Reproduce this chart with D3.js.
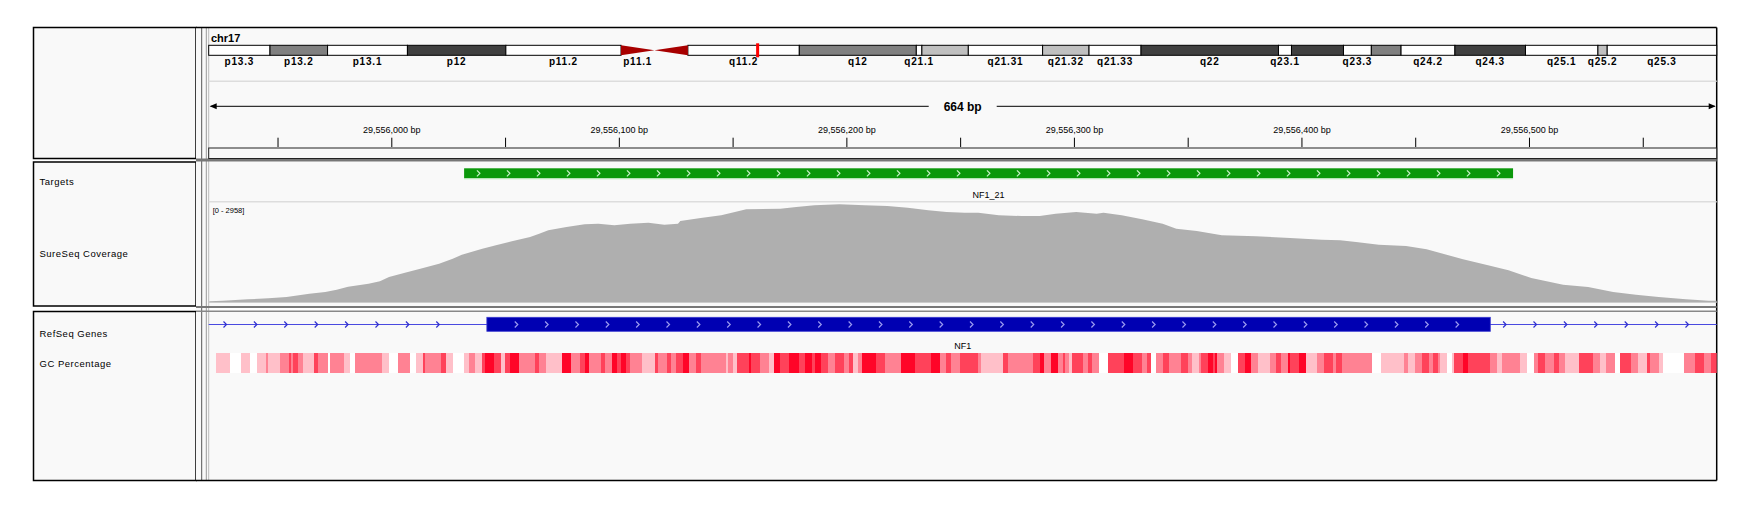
<!DOCTYPE html>
<html>
<head>
<meta charset="utf-8">
<script src="https://cdn.jsdelivr.net/npm/d3@7"></script>
<style>
  body { margin: 0; background: #fff; }
  text { font-family: "Liberation Sans", Arial, sans-serif; }
</style>
</head>
<body>
<div id="igv"></div>
<script>
// ---- data ----
var chrName = "chr17";
var chrLength = 81195210;
var viewStart = 29555919.75, viewEnd = 29556582.5;
var spanLabel = "664 bp";

// hg19 chr17 cytobands
var bandName  = ["p13.3","p13.2","p13.1","p12","p11.2","p11.1","q11.1","q11.2","q12","q21.1","q21.2","q21.31","q21.32","q21.33","q22","q23.1","q23.2","q23.3","q24.1","q24.2","q24.3","q25.1","q25.2","q25.3"];
var bandStart = [0,3300000,6400000,10700000,16000000,22200000,24000000,25800000,31800000,38100000,38400000,40900000,44900000,47400000,50200000,57600000,58300000,61100000,62600000,64200000,67100000,70900000,74800000,75300000];
var bandEnd   = [3300000,6400000,10700000,16000000,22200000,24000000,25800000,31800000,38100000,38400000,40900000,44900000,47400000,50200000,57600000,58300000,61100000,62600000,64200000,67100000,70900000,74800000,75300000,81195210];
var bandStain = ["gneg","gpos50","gneg","gpos75","gneg","acen","acen","gneg","gpos50","gneg","gpos25","gneg","gpos25","gneg","gpos75","gneg","gpos75","gneg","gpos50","gneg","gpos75","gneg","gpos25","gneg"];
var bandShown = ["p13.3","p13.2","p13.1","p12","p11.2","p11.1","q11.2","q12","q21.1","q21.31","q21.32","q21.33","q22","q23.1","q23.3","q24.2","q24.3","q25.1","q25.2","q25.3"];

// ruler ticks (bp)
var rulerTicks = [29555950,29556000,29556050,29556100,29556150,29556200,29556250,29556300,29556350,29556400,29556450,29556500,29556550];
var rulerLabels = [29556000,29556100,29556200,29556300,29556400,29556500];

// targets track
var targetName = "NF1_21", targetStart = 29556032, targetEnd = 29556493;

// coverage track
var covMax = 2958;
var covPos = [29555920,29555926,29555937,29555946,29555954,29555964,29555971,29555976,29555981,29555990,29555995,29555999,
  29556006,29556014,29556021,29556027,29556031,29556040,29556046,29556053,29556061,29556065,29556069,29556077,29556085,29556091,29556098,
  29556105,29556113,29556120,29556126,29556127,29556136,29556145,29556151,29556156,29556171,29556178,29556186,29556197,
  29556208,29556218,29556227,29556236,29556244,29556252,29556258,29556267,29556277,29556285,29556292,
  29556301,29556310,29556313,29556321,29556330,29556339,29556345,29556354,29556365,29556380,29556395,
  29556409,29556417,29556424,29556434,29556446,29556455,29556463,29556471,29556482,29556491,
  29556501,29556515,29556526,29556537,29556547,29556557,29556569,29556579,29556583];
var covDepth = [21,38,80,109,148,246,296,364,453,541,612,740,
  867,1006,1133,1281,1399,1577,1677,1796,1923,2020,2121,2219,2298,2316,2269,
  2316,2346,2287,2316,2396,2485,2565,2662,2742,2760,2810,2860,2890,
  2860,2840,2789,2712,2662,2641,2641,2565,2544,2544,2612,
  2662,2612,2641,2565,2446,2316,2168,2100,1973,1943,1893,
  1843,1825,1775,1695,1656,1559,1411,1263,1086,938,
  710,512,444,296,216,148,80,38,38];

// RefSeq gene
var geneName = "NF1", geneStart = 29421945, geneEnd = 29704695;
var exonStart = 29556042, exonEnd = 29556483;

// GC percentage: runs of [offset from gcOrigin, level 0-4]
var gcOrigin = 29555920, gcEndOffset = 663;
var gcRuns = [[3,1],[9,0],[14,1],[18,0],[21,1],[25,2],[26,1],[31,2],[35,3],[36,2],[37,3],[39,2],[41,1],[46,3],[48,2],[52,0],[53,2],[59,1],[62,0],[64,2],[76,1],[79,0],[83,2],[88,0],[91,1],[94,3],[95,2],[102,3],[104,1],[107,0],[112,1],[114,2],[117,1],[120,3],[121,4],[125,3],[128,1],[130,3],[132,4],[136,2],[143,3],[145,2],[148,1],[155,4],[159,2],[163,3],[165,4],
  [167,2],[172,3],[174,2],[177,4],[179,3],[181,4],[183,3],[185,2],[190,1],[196,3],[197,2],[201,3],[203,2],[205,3],[208,4],[211,2],[214,3],[216,2],[227,1],[228,2],[230,1],[232,3],[237,4],[238,3],[242,2],[246,1],[248,4],[251,3],[255,4],[259,3],[262,4],[265,3],[266,4],[269,3],[272,2],[275,3],[279,2],[281,3],[283,1],[285,2],[287,4],[293,3],[297,2],[304,4],[310,3],[317,4],[321,2],[324,3],[326,2],
  [330,3],[338,2],[339,1],[349,3],[351,2],[362,3],[365,4],[367,2],[370,4],[373,2],[375,3],[376,2],[378,1],[379,3],[384,2],[386,3],[388,2],[391,0],[395,3],[402,4],[406,3],[410,2],[412,3],[414,0],[416,2],[419,3],[422,2],[427,3],[430,2],[432,1],[435,2],[436,3],[439,4],[441,3],[442,4],[443,2],[446,1],[449,0],[452,3],[455,4],[458,2],[461,1],[466,2],[469,3],[471,2],[474,4],[475,3],[479,4],[482,1],[487,2],[490,3],[494,2],
  [495,3],[498,2],[511,0],[515,1],[525,2],[527,1],[530,2],[533,3],[536,2],[538,3],[540,2],[541,1],[544,0],[546,1],[547,3],[551,4],[553,3],[563,2],[566,1],[568,2],[576,1],[579,0],[582,2],[584,3],[587,2],[591,3],[593,2],[596,1],[602,3],[608,2],[611,1],[614,2],[618,0],[620,3],[625,2],[628,1],[632,3],[633,2],[637,1],[639,0],[648,2],[653,3],[657,2],[660,3]];

// track names
var trackNames = [["Targets", 184.5], ["SureSeq Coverage", 256.5], ["RefSeq Genes", 336.7], ["GC Percentage", 366.7]];

// ---- layout ----
var W = 1751, H = 511;
var dataLeft = 208.7, dataRight = 1716.7;
var bg = "#f9f9f9";
var svg = d3.select("#igv").append("svg").attr("width", W).attr("height", H);

var x = d3.scaleLinear().domain([viewStart, viewEnd]).range([dataLeft, dataRight]);
var ideoX = d3.scaleLinear().domain([0, chrLength]).range([dataLeft, dataRight]);
var covY = d3.scaleLinear().domain([0, covMax]).range([302, 202]);

var stainColor = { gneg: "#ffffff", gpos25: "#c0c0c0", gpos50: "#808080", gpos75: "#404040", acen: "#a80000" };
var gcColor = ["#ffffff", "#ffc0c9", "#ff8293", "#ff425a", "#ff0528"];

// Panel frames
var rows = [[27.5, 158.5], [162, 306], [311.5, 480.5]];
rows.forEach(function(r) {
  svg.append("rect").attr("x", 33.5).attr("y", r[0]).attr("width", 162.5).attr("height", r[1] - r[0])
    .attr("fill", bg).attr("stroke", "#000").attr("stroke-width", 1.5);
  svg.append("rect").attr("x", dataLeft).attr("y", r[0]).attr("width", dataRight - dataLeft).attr("height", r[1] - r[0])
    .attr("fill", bg);
});
svg.append("rect").attr("x", 196).attr("y", 27.5).attr("width", dataLeft - 196).attr("height", 453).attr("fill", bg);
svg.append("line").attr("x1", 201.7).attr("x2", 201.7).attr("y1", 27.5).attr("y2", 480.5).attr("stroke", "#555").attr("stroke-width", 1);
svg.append("line").attr("x1", 206.3).attr("x2", 206.3).attr("y1", 27.5).attr("y2", 480.5).attr("stroke", "#999").attr("stroke-width", 1);
svg.append("line").attr("x1", dataLeft).attr("x2", dataLeft).attr("y1", 27.5).attr("y2", 480.5).attr("stroke", "#bbb").attr("stroke-width", 1);
// outer borders of the data side
svg.append("line").attr("x1", 196).attr("x2", dataRight).attr("y1", 27.5).attr("y2", 27.5).attr("stroke", "#000").attr("stroke-width", 1.5);
svg.append("line").attr("x1", 196).attr("x2", dataRight).attr("y1", 480.5).attr("y2", 480.5).attr("stroke", "#000").attr("stroke-width", 1.5);
svg.append("line").attr("x1", dataRight).attr("x2", dataRight).attr("y1", 27.5).attr("y2", 480.5).attr("stroke", "#000").attr("stroke-width", 1.5);
// dividers between panels
svg.append("rect").attr("x", 196).attr("y", 158.5).attr("width", dataRight - 196).attr("height", 3).attr("fill", "#777");
svg.append("line").attr("x1", dataLeft).attr("x2", dataRight).attr("y1", 302.5).attr("y2", 302.5).attr("stroke", "#ccc");
svg.append("rect").attr("x", 196).attr("y", 306).attr("width", dataRight - 196).attr("height", 2).attr("fill", "#777");
svg.append("rect").attr("x", 196).attr("y", 310.5).attr("width", dataRight - 196).attr("height", 1.5).attr("fill", "#888");

// Track names
svg.selectAll(".tname").data(trackNames).enter().append("text")
  .attr("x", 39.5).attr("y", function(d) { return d[1]; })
  .attr("font-size", "9.5px").attr("letter-spacing", "0.5px").attr("fill", "#000")
  .text(function(d) { return d[0]; });

// ---- Header: ideogram ----
svg.append("text").attr("x", 211).attr("y", 42).attr("font-size", "11px").attr("font-weight", 700).text(chrName);

var bands = bandName.map(function(n, i) { return { name: n, start: bandStart[i], end: bandEnd[i], stain: bandStain[i] }; });
var ideoTop = 45.3, ideoH = 10;
svg.selectAll(".band").data(bands.filter(function(b) { return b.stain != "acen"; })).enter().append("rect")
  .attr("x", function(b) { return ideoX(b.start); })
  .attr("y", ideoTop)
  .attr("width", function(b) { return ideoX(b.end) - ideoX(b.start); })
  .attr("height", ideoH)
  .attr("fill", function(b) { return stainColor[b.stain]; })
  .attr("stroke", "#000").attr("stroke-width", 1);
bands.filter(function(b) { return b.stain == "acen"; }).forEach(function(b) {
  var x0 = ideoX(b.start), x1 = ideoX(b.end), ym = ideoTop + ideoH / 2;
  var pts = b.name.charAt(0) == "p"
    ? [[x0, ideoTop], [x0, ideoTop + ideoH], [x1, ym]]
    : [[x0, ym], [x1, ideoTop], [x1, ideoTop + ideoH]];
  svg.append("polygon").attr("points", pts.map(function(p) { return p.join(","); }).join(" "))
    .attr("fill", stainColor.acen);
});
svg.selectAll(".blabel").data(bands.filter(function(b) { return bandShown.indexOf(b.name) >= 0; })).enter().append("text")
  .attr("x", function(b) { return ideoX((b.start + b.end) / 2); })
  .attr("y", 65.3)
  .attr("text-anchor", "middle").attr("font-size", "10px").attr("font-weight", 700).attr("letter-spacing", "0.8px")
  .text(function(b) { return b.name; });
// current locus marker
svg.append("rect").attr("x", ideoX(viewStart) - 1.5).attr("y", 43.3).attr("width", 3).attr("height", 14).attr("fill", "#ff0000");

svg.append("line").attr("x1", dataLeft).attr("x2", dataRight).attr("y1", 81.3).attr("y2", 81.3).attr("stroke", "#ddd").attr("stroke-width", 1.5);

// ---- Header: ruler ----
var rulerY = 106.3;
svg.append("line").attr("x1", x(viewStart) + 2).attr("x2", x(viewEnd) - 2).attr("y1", rulerY).attr("y2", rulerY).attr("stroke", "#000");
svg.append("polygon").attr("points", [[x(viewStart) + 1, rulerY], [x(viewStart) + 8, rulerY - 3], [x(viewStart) + 8, rulerY + 3]].join(" ")).attr("fill", "#000");
svg.append("polygon").attr("points", [[x(viewEnd) - 1, rulerY], [x(viewEnd) - 8, rulerY - 3], [x(viewEnd) - 8, rulerY + 3]].join(" ")).attr("fill", "#000");
var mid = x((viewStart + viewEnd) / 2);
svg.append("rect").attr("x", mid - 34).attr("y", rulerY - 8).attr("width", 68).attr("height", 16).attr("fill", bg);
svg.append("text").attr("x", mid).attr("y", rulerY + 4.5).attr("text-anchor", "middle")
  .attr("font-size", "12px").attr("font-weight", 700).text(spanLabel);

var fmt = d3.format(",");
var rulerAxis = d3.axisTop(x).tickValues(rulerTicks).tickSize(9.3).tickPadding(4.5)
  .tickFormat(function(d) { return rulerLabels.indexOf(d) >= 0 ? fmt(d) + " bp" : ""; });
var axisG = svg.append("g").attr("transform", "translate(0,147)").call(rulerAxis);
axisG.select(".domain").remove();
axisG.selectAll("line").attr("stroke", "#000");
axisG.selectAll("text").attr("font-size", "9px").attr("font-family", "'Liberation Sans', Arial, sans-serif").attr("fill", "#000");
svg.append("rect").attr("x", dataLeft).attr("y", 148).attr("width", dataRight - dataLeft).attr("height", 10.5)
  .attr("fill", bg).attr("stroke", "#222").attr("stroke-width", 1);

// ---- Targets ----
var tx0 = x(targetStart), tx1 = x(targetEnd);
svg.append("rect").attr("x", tx0).attr("y", 168.3).attr("width", tx1 - tx0).attr("height", 10).attr("fill", "#0b980b");
svg.append("line").attr("x1", tx0).attr("x2", tx1).attr("y1", 178.8).attr("y2", 178.8).attr("stroke", "#b8e8b8");
function chevrons(g, xs, yc, color, w) {
  g.selectAll(null).data(xs).enter().append("path")
    .attr("d", function(cx) { return "M" + (cx - 1.5) + "," + (yc - 3) + "L" + (cx + 1.5) + "," + yc + "L" + (cx - 1.5) + "," + (yc + 3); })
    .attr("fill", "none").attr("stroke", color).attr("stroke-width", w);
}
var tChev = d3.range(tx0 + 14.3, tx1 - 8, 30);
chevrons(svg.append("g"), tChev, 173.3, "#c8f0c8", 1.2);
svg.append("text").attr("x", (tx0 + tx1) / 2).attr("y", 198.3).attr("text-anchor", "middle").attr("font-size", "9px").text(targetName);
svg.append("line").attr("x1", dataLeft).attr("x2", dataRight).attr("y1", 201.7).attr("y2", 201.7).attr("stroke", "#ddd").attr("stroke-width", 1.5);

// ---- Coverage ----
var cov = covPos.map(function(p, i) { return { pos: p, depth: covDepth[i] }; });
svg.append("clipPath").attr("id", "dataclip").append("rect")
  .attr("x", dataLeft).attr("y", 0).attr("width", dataRight - dataLeft).attr("height", H);
var area = d3.area().x(function(d) { return x(d.pos); }).y0(covY(0)).y1(function(d) { return covY(d.depth); });
svg.append("path").datum(cov).attr("d", area).attr("fill", "#afafaf").attr("clip-path", "url(#dataclip)");
svg.append("text").attr("x", 212.7).attr("y", 212.5).attr("font-size", "7.5px").text("[0 - " + covMax + "]");

// ---- RefSeq gene ----
var gy = 324.5;
var gx0 = Math.max(x(geneStart), dataLeft), gx1 = Math.min(x(geneEnd), dataRight);
svg.append("line").attr("x1", gx0).attr("x2", gx1).attr("y1", gy).attr("y2", gy).attr("stroke", "#4a4ae0").attr("stroke-width", 1.2);
var ex0 = x(exonStart), ex1 = x(exonEnd);
var thinChev = d3.range(dataLeft + 16.3, ex0 - 40, 30.4).concat(d3.range(ex1 + 14.3, dataRight, 30.4));
chevrons(svg.append("g"), thinChev, gy, "#3030d0", 1.2);
svg.append("rect").attr("x", ex0).attr("y", 317.3).attr("width", ex1 - ex0).attr("height", 14)
  .attr("fill", "#0000b2").attr("stroke", "#3a3ad0").attr("stroke-width", 0.8);
chevrons(svg.append("g"), d3.range(ex0 + 29.4, ex1 - 20, 30.35), gy, "#9a9af0", 1.2);
svg.append("text").attr("x", (gx0 + gx1) / 2).attr("y", 349).attr("text-anchor", "middle").attr("font-size", "9px").text(geneName);

// ---- GC percentage ----
var gcSegs = gcRuns.map(function(r, i) {
  var endOff = i + 1 < gcRuns.length ? gcRuns[i + 1][0] : gcEndOffset;
  return { start: gcOrigin + r[0], end: gcOrigin + endOff, level: r[1] };
});
svg.append("g").attr("clip-path", "url(#dataclip)").selectAll("rect").data(gcSegs).enter().append("rect")
  .attr("x", function(d) { return x(d.start); })
  .attr("y", 352.7)
  .attr("width", function(d) { return x(d.end) - x(d.start); })
  .attr("height", 20.5)
  .attr("fill", function(d) { return gcColor[d.level]; })
  .attr("shape-rendering", "crispEdges");
</script>
</body>
</html>
